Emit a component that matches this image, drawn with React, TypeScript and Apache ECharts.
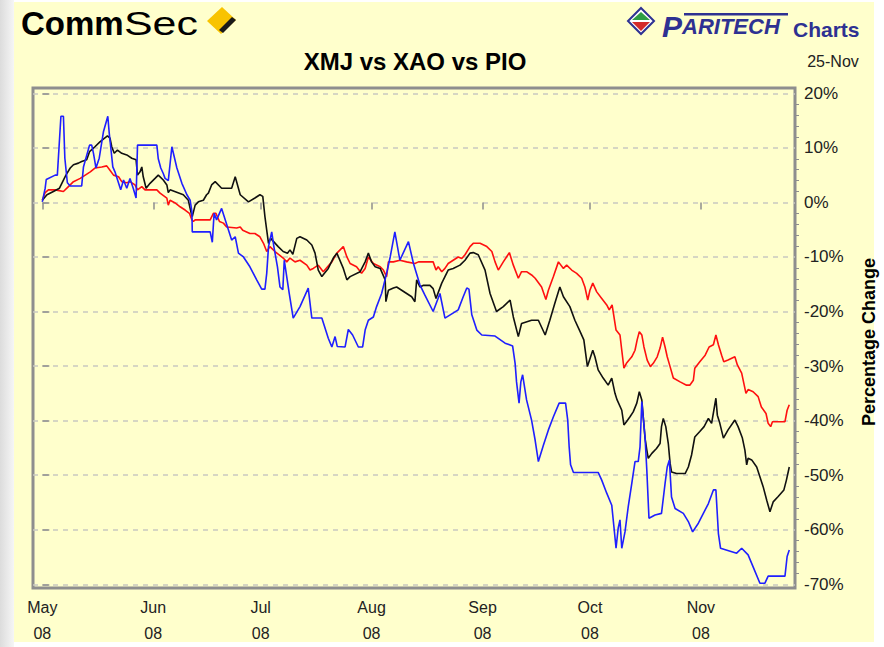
import React, { useEffect, useRef } from "react";
import * as echarts from "echarts";

// Days counted from 1 May 2008, value = percentage change since 1 May 2008
const xmjPoints: [number, number][] = [
  [0, 0.4], [1.3, 1.4], [3.1, 2.0], [4.8, 2.6], [5.9, 4.1], [6.6, 5.0], [7.8, 6.3], [8.7, 6.9], [10.1, 7.2], [11.0, 7.5],
  [12.4, 7.8], [13.2, 9.3], [14.7, 10.2], [16.1, 11.1], [18.2, 12.2], [18.9, 11.8], [19.4, 10.2], [20.1, 9.0], [21.0, 9.6], [22.2, 9.0],
  [23.6, 8.7], [25.0, 8.1], [26.2, 7.8], [26.6, 5.0], [27.3, 5.6], [27.8, 6.5], [28.2, 4.7], [29.0, 2.6], [30.1, 3.5], [31.5, 4.4],
  [32.4, 5.0], [33.8, 4.1], [34.8, 3.2], [35.2, 1.8], [35.7, 2.3], [39.4, 1.4], [40.8, 0.4], [41.5, -1.7], [41.9, -2.6], [42.7, -0.5],
  [43.6, 0.1], [45.0, 0.4], [45.9, 1.4], [46.4, 1.7], [47.3, 3.2], [48.3, 3.8], [50.1, 2.6], [52.9, 2.6], [53.9, 4.7], [55.3, 1.4],
  [57.6, 0.1], [59.4, 0.8], [60.8, 1.4], [61.6, 1.1], [62.2, -2.6], [62.7, -5.1], [63.2, -7.5], [63.8, -6.6], [65.9, -8.1], [67.3, -9.0],
  [68.5, -9.3], [69.2, -8.7], [70.0, -9.5], [71.1, -6.6], [72.0, -6.3], [73.9, -6.9], [75.3, -7.8], [76.2, -9.3], [77.1, -12.4], [78.1, -13.6],
  [79.9, -12.1], [81.3, -10.2], [82.3, -9.3], [84.1, -12.1], [85.1, -14.2], [86.0, -13.6], [88.8, -12.7], [90.2, -10.9], [91.1, -9.3], [92.0, -10.9],
  [93.0, -11.8], [94.4, -12.1], [95.8, -14.2], [96.0, -18.2], [96.7, -16.1], [98.1, -15.7], [99.0, -15.5], [101.8, -16.7], [103.2, -17.3], [104.1, -18.2],
  [104.6, -14.2], [105.5, -15.5], [106.5, -15.2], [108.3, -15.2], [109.2, -15.8], [110.0, -17.6], [111.6, -14.8], [112.5, -13.6], [113.4, -12.4], [114.8, -12.1],
  [116.7, -11.5], [118.1, -10.6], [119.5, -9.3], [120.4, -9.2], [121.8, -9.6], [123.7, -12.4], [125.1, -16.7], [126.9, -20.0], [128.8, -19.1], [130.7, -17.9],
  [131.6, -21.0], [133.0, -24.6], [133.9, -22.2], [136.7, -21.6], [138.6, -21.6], [140.5, -24.3], [141.8, -21.6], [143.2, -18.5], [144.6, -15.5], [145.6, -17.3],
  [147.4, -19.1], [148.8, -21.6], [150.2, -23.6], [151.3, -25.2], [152.3, -30.1], [153.2, -28.3], [153.8, -27.1], [154.4, -28.3], [155.3, -30.7], [156.7, -32.2],
  [158.1, -33.5], [159.1, -32.2], [160.0, -35.0], [160.6, -36.2], [161.9, -38.1], [162.5, -40.8], [163.2, -40.2], [164.2, -39.3], [165.1, -38.4], [166.1, -36.8],
  [166.8, -34.7], [167.5, -36.2], [168.4, -43.2], [168.9, -45.4], [169.3, -46.9], [170.3, -46.0], [171.6, -45.1], [172.6, -44.2], [173.0, -41.1], [173.5, -39.6],
  [174.2, -41.1], [174.9, -44.2], [175.4, -47.8], [175.8, -49.4], [177.2, -49.7], [179.6, -49.7], [180.5, -48.5], [181.4, -46.3], [182.3, -43.0], [183.7, -42.0],
  [184.9, -41.1], [186.1, -39.6], [187.0, -40.5], [188.2, -35.9], [188.6, -39.0], [189.3, -40.5], [190.3, -43.2], [191.6, -41.7], [193.5, -39.9], [194.4, -41.1],
  [195.6, -43.2], [196.3, -45.4], [196.8, -48.1], [197.2, -46.9], [198.2, -47.2], [199.6, -48.5], [201.4, -52.1], [202.4, -54.6], [203.3, -56.7], [204.2, -54.9],
  [205.6, -53.9], [207.2, -52.7], [207.9, -50.9], [208.7, -48.5],
];

const xaoPoints: [number, number][] = [
  [0, 0.4], [0.8, 1.8], [1.7, 2.3], [3.6, 2.3], [5.9, 2.0], [7.3, 2.9], [8.7, 3.8], [10.6, 4.4], [12.0, 5.0], [13.4, 5.6],
  [14.7, 6.3], [16.6, 6.5], [18.0, 6.7], [18.9, 5.9], [19.9, 5.0], [21.3, 4.7], [22.2, 3.8], [23.6, 3.6], [24.5, 3.8], [25.9, 3.2],
  [26.6, 2.3], [27.8, 2.9], [28.7, 2.3], [32.0, 2.3], [32.9, 1.7], [34.8, 0.8], [35.2, -0.5], [35.7, 0.4], [37.1, -0.1], [38.5, -0.8],
  [39.9, -1.4], [41.1, -2.0], [41.8, -3.2], [42.2, -3.5], [42.7, -3.2], [46.9, -3.2], [47.8, -2.0], [48.5, -2.0], [49.5, -3.5], [50.6, -3.8],
  [51.5, -4.5], [54.3, -4.7], [55.3, -4.5], [56.0, -5.1], [58.0, -5.7], [59.4, -5.7], [60.8, -6.3], [61.8, -7.5], [62.7, -9.0], [63.6, -8.1],
  [65.0, -9.0], [67.3, -10.2], [68.3, -10.9], [69.2, -10.2], [70.6, -10.9], [72.0, -10.6], [73.9, -11.5], [74.8, -12.4], [75.7, -12.1], [77.1, -11.5],
  [78.5, -12.7], [80.9, -10.9], [82.3, -9.3], [83.2, -8.7], [84.1, -8.1], [85.1, -10.0], [86.0, -11.2], [87.8, -11.8], [89.2, -13.0], [90.2, -12.1],
  [91.1, -10.0], [92.5, -11.2], [94.4, -11.8], [95.3, -12.4], [96.2, -13.6], [96.7, -10.9], [98.1, -10.9], [99.9, -10.6], [101.8, -10.9], [104.1, -11.2],
  [105.1, -10.9], [109.2, -10.9], [110.0, -12.4], [110.6, -11.8], [111.6, -12.7], [112.5, -12.1], [113.4, -11.2], [114.8, -10.6], [116.2, -10.0], [117.2, -10.3],
  [118.1, -9.6], [119.5, -8.1], [120.4, -7.5], [122.3, -7.5], [124.2, -8.1], [125.6, -9.0], [126.5, -10.9], [127.4, -12.4], [128.8, -10.9], [129.7, -10.0],
  [130.5, -9.2], [131.6, -11.5], [133.0, -13.9], [133.9, -12.7], [135.3, -12.7], [136.7, -13.3], [137.7, -13.9], [139.5, -15.5], [140.7, -17.8], [141.4, -16.1],
  [142.8, -13.6], [144.2, -10.9], [145.6, -12.1], [146.5, -11.5], [147.9, -12.4], [149.3, -13.0], [150.7, -13.9], [151.6, -15.5], [152.4, -17.9], [153.0, -16.1],
  [153.8, -14.8], [154.9, -16.4], [156.3, -17.6], [157.7, -18.8], [158.4, -19.7], [159.2, -18.8], [160.3, -23.4], [161.4, -24.3], [161.9, -27.1], [162.5, -30.4],
  [163.2, -29.5], [164.7, -28.3], [165.6, -27.1], [166.2, -25.2], [166.8, -23.7], [167.5, -24.3], [168.1, -26.5], [169.0, -28.9], [169.9, -30.1], [170.7, -29.5],
  [171.8, -28.3], [172.6, -26.7], [173.3, -24.7], [174.0, -26.5], [174.6, -28.3], [175.4, -30.1], [176.3, -32.2], [178.2, -32.9], [180.0, -33.5], [180.9, -33.5],
  [181.9, -32.6], [182.3, -30.4], [183.7, -29.2], [185.2, -28.0], [186.3, -26.5], [187.5, -26.1], [188.2, -24.3], [188.9, -26.1], [189.8, -28.0], [190.4, -29.2],
  [191.6, -28.9], [193.5, -28.3], [194.2, -29.8], [195.4, -31.3], [196.6, -35.0], [197.2, -34.3], [198.6, -34.7], [200.0, -35.6], [200.9, -37.5], [202.2, -38.7],
  [202.8, -40.5], [203.5, -41.1], [204.0, -40.2], [207.5, -40.2], [208.1, -38.1], [208.7, -37.1],
];

const pioPoints: [number, number][] = [
  [0, 0.1], [0.8, 2.6], [1.1, 4.2], [3.6, 5.0], [4.2, 5.0], [5.2, 15.8], [5.9, 15.8], [6.3, 8.1], [7.0, 3.6], [7.8, 3.0],
  [11.0, 3.0], [11.5, 6.5], [13.2, 10.5], [13.8, 10.5], [14.3, 9.0], [15.0, 6.3], [15.9, 8.1], [17.1, 13.0], [18.3, 15.8], [18.7, 12.7],
  [19.2, 9.6], [19.7, 6.5], [20.3, 5.6], [21.9, 2.3], [22.7, 4.1], [23.6, 2.6], [24.5, 4.4], [25.4, 2.6], [26.2, 0.8], [26.6, 10.5],
  [32.0, 10.5], [32.4, 8.0], [33.1, 6.3], [33.8, 5.3], [34.3, 4.4], [35.2, 4.0], [36.2, 10.2], [37.6, 6.3], [39.0, 3.5], [40.4, 1.4],
  [41.3, 0.4], [41.8, -1.7], [41.9, -5.4], [46.9, -5.4], [47.5, -7.3], [48.0, -2.0], [48.7, -3.2], [50.1, -1.1], [51.1, -3.2], [52.9, -6.9],
  [53.9, -6.3], [54.8, -9.3], [56.2, -10.0], [58.0, -11.8], [59.9, -14.2], [61.3, -15.9], [62.2, -15.9], [62.7, -13.0], [63.2, -8.1], [64.1, -5.4],
  [64.7, -8.1], [65.7, -11.8], [66.4, -15.5], [67.2, -16.0], [67.6, -10.6], [69.0, -16.7], [70.1, -21.2], [72.0, -19.1], [74.3, -15.7], [75.3, -21.2],
  [78.1, -21.2], [79.9, -24.9], [80.9, -26.5], [81.8, -24.6], [82.4, -26.4], [84.6, -26.5], [85.5, -23.3], [86.7, -24.3], [88.3, -26.5], [89.5, -26.5],
  [90.2, -23.4], [91.1, -21.6], [92.5, -21.0], [93.4, -19.1], [94.8, -16.7], [96.2, -13.0], [97.2, -10.0], [98.5, -5.4], [99.9, -10.6], [102.3, -7.2],
  [103.7, -11.2], [105.5, -15.1], [106.9, -17.0], [109.2, -20.0], [111.1, -16.7], [112.5, -21.2], [116.2, -19.7], [117.6, -17.3], [118.6, -15.7], [119.2, -15.9],
  [120.0, -20.6], [121.4, -23.4], [122.8, -24.3], [126.5, -24.5], [129.3, -25.8], [131.4, -26.3], [132.1, -29.5], [132.5, -32.9], [133.2, -36.8], [133.7, -32.9],
  [134.2, -31.6], [135.3, -36.2], [136.7, -39.9], [137.7, -43.6], [138.6, -47.5], [140.0, -44.5], [141.4, -41.7], [142.8, -39.3], [144.4, -36.8], [146.2, -36.8],
  [146.8, -39.9], [147.2, -44.8], [147.6, -48.1], [148.4, -49.5], [155.3, -49.5], [156.3, -50.9], [157.7, -53.3], [159.1, -55.5], [159.7, -59.4], [160.3, -63.4],
  [160.9, -59.7], [161.4, -58.2], [161.9, -63.4], [162.8, -60.4], [163.7, -55.8], [164.7, -51.5], [165.6, -47.5], [166.5, -47.5], [167.0, -44.8], [167.5, -36.5],
  [168.4, -43.0], [168.9, -49.1], [169.5, -57.9], [171.2, -57.3], [173.0, -57.0], [174.0, -51.5], [174.6, -48.5], [175.2, -47.2], [175.8, -54.0], [176.8, -56.1],
  [179.1, -57.0], [180.5, -58.5], [181.7, -60.4], [183.3, -58.8], [186.1, -55.2], [187.5, -52.7], [188.2, -52.7], [188.9, -60.7], [189.5, -63.4], [194.0, -64.3],
  [195.4, -63.4], [197.2, -64.6], [198.6, -66.8], [200.5, -69.8], [201.9, -69.8], [202.8, -68.5], [207.5, -68.5], [208.1, -64.9], [208.7, -63.7],
];

const monthStartDays = [0, 31, 61, 92, 123, 153, 184];
const monthNames = ["May", "Jun", "Jul", "Aug", "Sep", "Oct", "Nov"];
const yearLabel = "08";
const yMajorTicks = [-70, -60, -50, -40, -30, -20, -10, 0, 10, 20];
const yMinorTicks = [
  -68, -66, -64, -62, -58, -56, -54, -52, -48, -46, -44, -42, -38, -36, -34, -32,
  -28, -26, -24, -22, -18, -16, -14, -12, -8, -6, -4, -2, 2, 4, 6, 8, 12, 14, 16, 18,
];

const FONT = "Arial, 'Liberation Sans', sans-serif";
const YELLOW = "#FFFFCC";

export default function App() {
  const ref = useRef<HTMLDivElement>(null);

  useEffect(() => {
    if (!ref.current) return;
    const chart = echarts.init(ref.current, null, { renderer: "svg" });
    const yMin = -70.68;
    const yMax = 20.97;
    const option: any = {
      animation: false,
      backgroundColor: "#ffffff",
      grid: {
        left: 33,
        top: 88,
        right: 89,
        bottom: 59,
        show: true,
        borderColor: "#8e8e8e",
        borderWidth: 3,
        backgroundColor: "transparent",
      },
      xAxis: {
        type: "value",
        min: -2.6,
        max: 210.3,
        axisLine: { show: false },
        splitLine: { show: false },
        axisTick: {
          show: true,
          customValues: monthStartDays,
          length: 7,
          lineStyle: { color: "#8e8e8e", width: 1.5 },
        },
        axisLabel: {
          customValues: monthStartDays,
          formatter: (v: number) => {
            const i = monthStartDays.indexOf(Math.round(v));
            return (i >= 0 ? monthNames[i] : "") + "\n" + yearLabel;
          },
          margin: 6,
          fontSize: 16,
          lineHeight: 26,
          color: "#222",
          fontFamily: FONT,
        },
      },
      yAxis: [
        {
          type: "value",
          position: "right",
          min: yMin,
          max: yMax,
          axisLine: { show: false },
          axisTick: {
            show: true,
            customValues: yMajorTicks,
            length: 7,
            lineStyle: { color: "#8e8e8e", width: 1.5 },
          },
          axisLabel: {
            customValues: yMajorTicks,
            formatter: (v: number) => `${Math.round(v)}%`,
            margin: 9,
            fontSize: 17,
            color: "#222",
            fontFamily: FONT,
          },
          splitLine: {
            show: true,
            lineStyle: { type: [5, 5], color: "#c9c9c0", width: 1.5 },
          },
        },
        {
          type: "value",
          position: "right",
          min: yMin,
          max: yMax,
          axisLine: { show: false },
          axisTick: {
            show: true,
            customValues: yMinorTicks,
            length: 4,
            lineStyle: { color: "#8e8e8e", width: 1 },
          },
          axisLabel: { show: false },
          splitLine: { show: false },
        },
      ],
      series: [
        {
          name: "XAO",
          type: "line",
          data: xaoPoints,
          showSymbol: false,
          symbol: "none",
          lineStyle: { color: "#ff1010", width: 1.6 },
          z: 3,
        },
        {
          name: "XMJ",
          type: "line",
          data: xmjPoints,
          showSymbol: false,
          symbol: "none",
          lineStyle: { color: "#111111", width: 1.6 },
          z: 4,
        },
        {
          name: "PIO",
          type: "line",
          data: pioPoints,
          showSymbol: false,
          symbol: "none",
          lineStyle: { color: "#1f1fff", width: 1.6 },
          z: 5,
        },
      ],
      graphic: [
        {
          type: "rect",
          z: -10,
          shape: { x: 14, y: 2, width: 860, height: 640 },
          style: { fill: YELLOW },
        },
        {
          type: "rect",
          z: -10,
          shape: { x: 0, y: 0, width: 14, height: 647 },
          style: {
            fill: new echarts.graphic.LinearGradient(0, 0, 1, 0, [
              { offset: 0, color: "#dcdcdc" },
              { offset: 1, color: "#f6f6f6" },
            ]),
          },
        },
        // CommSec logo
        {
          type: "text",
          x: 21,
          y: 23,
          style: {
            text: "Comm",
            font: `bold 33px ${FONT}`,
            fill: "#000",
            textVerticalAlign: "middle",
            verticalAlign: "middle",
          },
        },
        {
          type: "text",
          x: 124,
          y: 23,
          scaleX: 1.3,
          style: {
            text: "Sec",
            font: `33px ${FONT}`,
            fill: "#000",
            textVerticalAlign: "middle",
            verticalAlign: "middle",
          },
        },
        {
          type: "polygon",
          shape: { points: [[222, 7], [236, 20], [221, 34], [207, 21]] },
          style: { fill: "#F8C300" },
        },
        {
          type: "polygon",
          shape: { points: [[232, 17], [236, 20], [223, 33], [219, 30]] },
          style: { fill: "#1a1a1a" },
        },
        // PARITECH logo
        {
          type: "polygon",
          shape: { points: [[641, 8], [654, 21], [641, 34], [628, 21]] },
          style: { fill: "#ffffff", stroke: "#2e3192", lineWidth: 2 },
        },
        {
          type: "polygon",
          shape: { points: [[641, 12], [650, 20], [632, 20]] },
          style: { fill: "#2f9e44" },
        },
        {
          type: "polygon",
          shape: { points: [[632, 22], [650, 22], [641, 31]] },
          style: { fill: "#d42a2a" },
        },
        {
          type: "rect",
          shape: { x: 684, y: 13, width: 104, height: 2.5 },
          style: { fill: "#2e3192" },
        },
        {
          type: "text",
          x: 662,
          y: 41,
          style: {
            text: "{p|P}{r|ARITECH}",
            rich: {
              p: { font: `italic bold 30px ${FONT}`, fill: "#2e3192", color: "#2e3192" },
              r: { font: `italic bold 22px ${FONT}`, fill: "#2e3192", color: "#2e3192" },
            },
            textVerticalAlign: "bottom",
            verticalAlign: "bottom",
          },
        },
        {
          type: "text",
          x: 793,
          y: 29,
          style: {
            text: "Charts",
            font: `bold 21px ${FONT}`,
            fill: "#2e3192",
            textVerticalAlign: "middle",
            verticalAlign: "middle",
          },
        },
        // Title and date
        {
          type: "text",
          x: 415,
          y: 61,
          style: {
            text: "XMJ vs XAO vs PIO",
            font: `bold 24px ${FONT}`,
            fill: "#000",
            textAlign: "center",
            align: "center",
            textVerticalAlign: "middle",
            verticalAlign: "middle",
          },
        },
        {
          type: "text",
          x: 833,
          y: 61,
          style: {
            text: "25-Nov",
            font: `16px ${FONT}`,
            fill: "#222",
            textAlign: "center",
            align: "center",
            textVerticalAlign: "middle",
            verticalAlign: "middle",
          },
        },
        // Axis name
        {
          type: "text",
          x: 869,
          y: 342,
          rotation: Math.PI / 2,
          style: {
            text: "Percentage Change",
            font: `bold 18px ${FONT}`,
            fill: "#000",
            textAlign: "center",
            align: "center",
            textVerticalAlign: "middle",
            verticalAlign: "middle",
          },
        },
      ],
    };
    chart.setOption(option);
    return () => chart.dispose();
  }, []);

  return (
    <div
      ref={ref}
      style={{ position: "absolute", left: 0, top: 0, width: 884, height: 647 }}
    />
  );
}
